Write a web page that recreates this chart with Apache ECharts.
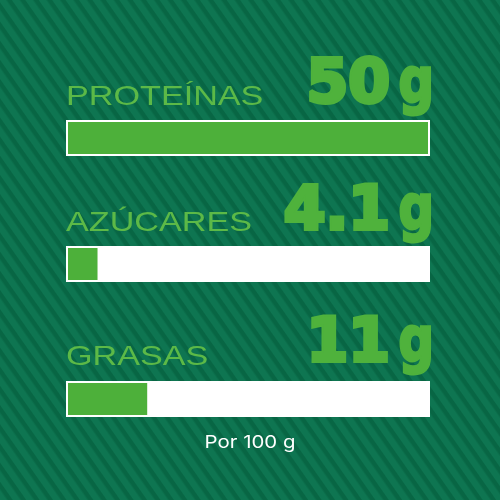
<!DOCTYPE html>
<html><head><meta charset="utf-8">
<script src="https://cdn.jsdelivr.net/npm/echarts@6/dist/echarts.min.js"></script>
<style>
html,body{margin:0;padding:0;}
#c{width:500px;height:500px;background:#0b6d4a repeating-linear-gradient(55deg,#0e7551 0px,#0e7551 5px,#086644 7px,#086644 10px,#0e7551 11px);}
</style></head><body><div id="c"></div>
<script>
const categories = ['PROTEÍNAS', 'AZÚCARES', 'GRASAS'];
const values = [50, 4.1, 11];
const valueLabels = ['50', '4.1', '11'];
const unit = 'g';
const footnote = 'Por 100 g';
const axisMax = 50;

// layout (pixels)
const barTops = [122, 248, 383];
const labelMid = [97, 223, 357];
const valueMid = [86, 213, 345];

const chart = echarts.init(document.getElementById('c'), null, {renderer: 'canvas'});
const grids = [], xAxes = [], yAxes = [], series = [], graphics = [];
const valColor = '#4fb23c';
categories.forEach((cat, i) => {
  grids.push({left: 68, right: 72, top: barTops[i], height: 32});
  xAxes.push({type: 'value', gridIndex: i, min: 0, max: axisMax, show: false});
  yAxes.push({type: 'category', gridIndex: i, data: [cat], show: false});
  series.push({
    type: 'bar', xAxisIndex: i, yAxisIndex: i, data: [values[i]],
    barWidth: 32, silent: true,
    itemStyle: {color: '#4db03a'},
    showBackground: true,
    backgroundStyle: {color: '#ffffff', borderColor: '#ffffff', borderWidth: 4}
  });
  graphics.push({
    type: 'text', x: 66, y: labelMid[i], scaleX: 1.22,
    style: {text: cat, fill: '#5cb947', font: '28px "Liberation Sans"', textAlign: 'left', textVerticalAlign: 'middle'}
  });
  graphics.push({
    type: 'text', x: 390, y: valueMid[i], scaleX: 1.0,
    style: {text: valueLabels[i], fill: valColor, stroke: valColor, lineWidth: 4, font: 'bold 60px "DejaVu Sans"', textAlign: 'right', textVerticalAlign: 'middle'}
  });
  graphics.push({
    type: 'text', x: 434, y: valueMid[i], scaleX: 0.8,
    style: {text: unit, fill: valColor, stroke: valColor, lineWidth: 3, font: 'bold 62px "DejaVu Sans"', textAlign: 'right', textVerticalAlign: 'middle'}
  });
});
graphics.push({
  type: 'text', x: 250, y: 443, scaleX: 1.2,
  style: {text: footnote, fill: '#ffffff', font: '17px Inter', textAlign: 'center', textVerticalAlign: 'middle'}
});

chart.setOption({
  backgroundColor: 'transparent',
  animation: false,
  grid: grids, xAxis: xAxes, yAxis: yAxes, series: series,
  graphic: graphics
});
</script></body></html>
